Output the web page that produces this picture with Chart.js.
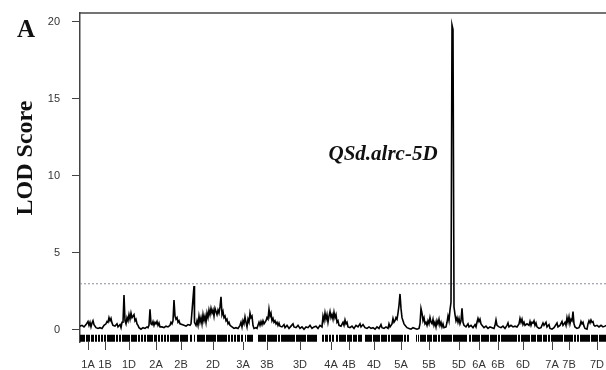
<!DOCTYPE html>
<html>
<head>
<meta charset="utf-8">
<script src="https://cdn.jsdelivr.net/npm/chart.js@4"></script>
<style>
  html, body { margin: 0; padding: 0; background: #fff; }
  #wrap { width: 606px; height: 370px; }
</style>
</head>
<body>
<div id="wrap"><canvas id="c" width="606" height="370"></canvas></div>
<script>
// ---- data ----
const chromLabels = ['1A','1B','1D','2A','2B','2D','3A','3B','3D','4A','4B','4D','5A','5B','5D','6A','6B','6D','7A','7B','7D'];
const chromPos = [8,25,49,76,101,133,163,187,220,251,269,294,321,349,379,399,418,443,472,489,517];
const yTickValues = [0, 5, 10, 15, 20];
const lodThreshold = 3.0;
const qtlName = 'QSd.alrc-5D';
const qtlLabelAt = [303, 11.4];
// [genome position, LOD]
const lodProfile = [
[0,0.25],[2,0.3],[4,0.2],[6,0.35],[8,0.55],[9,0.3],[10,0.5],[11,0.2],[12,0.45],[13,0.6],[14,0.35],[16,0.15],[18,0.1],[20,0.15],[22,0.1],[24,0.3],
[26,0.4],[27,0.55],[28,0.5],[29,0.8],[30,0.6],[31,0.75],[32,0.45],[33,0.3],
[35,0.25],[37,0.4],[38,0.2],[40,0.35],[41,0.15],[42,0.5],
[43,0.5],[44,2.27],[45,0.6],
[46,0.4],[47,0.8],[48,0.6],[49,1.0],[50,0.7],[51,1.1],[52,0.8],[53,0.9],[54,1.0],[55,0.6],[56,0.7],[57,0.4],[58,0.3],
[59,0.15],[61,0.05],[63,0.15],[65,0.1],[67,0.2],[68,0.15],[69,0.3],[70,1.35],[71,0.4],
[72,0.35],[73,0.55],[74,0.3],[75,0.5],[76,0.4],[77,0.55],[78,0.3],[79,0.45],[80,0.2],
[82,0.2],[84,0.15],[86,0.25],[88,0.2],[90,0.3],[91,0.5],[92,0.4],[93,0.6],[94,1.95],[95,0.9],[96,0.7],[97,0.8],[98,0.5],[99,0.6],[100,0.4],[102,0.35],
[104,0.3],[106,0.25],[108,0.35],[110,0.3],[111,0.4],[114,2.85],[114.5,0.5],[116,0.3],
[117,0.6],[118,0.3],[119,0.9],[120,0.5],[121,0.8],[122,0.4],[123,1.0],[124,0.6],[125,0.9],[126,0.5],[127,1.1],
[128,0.8],[129,1.3],[130,1.0],[131,1.4],[132,1.1],[133,1.3],[134,0.9],[135,1.4],[136,1.2],[137,1.0],[138,1.3],[139,1.1],[140,1.5],[141,2.16],[142,1.0],[143,1.2],[144,0.8],[145,0.9],[146,0.6],[147,0.7],[148,0.4],[149,0.5],[150,0.3],
[152,0.2],[154,0.1],[156,0.15],[158,0.1],
[160,0.3],[161,0.5],[162,0.2],[163,0.6],[164,0.4],[165,0.85],[166,0.5],[167,0.2],[168,0.7],[169,0.5],[170,1.1],[171,0.8],[172,0.9],[173,0.3],[174,0.1],[176,0.15],[177,0.1],
[178,0.3],[179,0.5],[180,0.3],[181,0.55],[182,0.35],[183,0.6],[184,0.4],[185,0.5],[186,0.6],[187,0.8],[188,0.7],[189,1.35],[190,0.9],[191,1.1],[192,0.6],[193,0.75],[194,0.5],[195,0.6],[196,0.4],[197,0.5],[198,0.3],[199,0.45],[200,0.25],
[202,0.2],[204,0.35],[205,0.15],[207,0.3],[209,0.1],[211,0.25],[213,0.4],[214,0.2],[216,0.15],[218,0.3],[220,0.1],[222,0.2],[224,0.05],[226,0.2],[228,0.15],[230,0.3],[232,0.1],[234,0.2],[236,0.25],[238,0.1],[240,0.3],[242,0.2],
[243,0.9],[244,0.6],[245,1.1],[246,0.7],[247,1.0],[248,0.5],[249,0.9],[250,1.2],[251,0.8],[252,1.0],[253,0.7],[254,1.15],[255,0.8],[256,1.0],[257,0.5],[258,0.6],[259,0.3],
[261,0.25],[263,0.5],[264,0.3],[265,0.65],[266,0.4],[267,0.5],[268,0.2],
[270,0.15],[272,0.25],[274,0.1],[276,0.3],[278,0.2],[280,0.4],[281,0.2],[283,0.35],[285,0.15],[287,0.1],[289,0.2],[291,0.1],[293,0.15],[295,0.05],[297,0.2],[299,0.1],[301,0.35],[302,0.15],[304,0.1],[306,0.2],[308,0.1],[309,0.4],[310,0.2],
[312,0.4],[313,0.75],[314,0.5],[315,0.6],[316,0.8],[317,0.7],[318,1.1],[319,1.6],[320,2.34],[321,1.4],[322,0.8],[323,0.6],[324,0.4],[325,0.3],[327,0.15],
[329,0.1],[331,0.05],[333,0.15],[335,0.1],[337,0.05],[339,0.1],
[340,0.4],[341,1.4],[342,1.1],[343,0.6],[344,0.8],[345,0.4],[346,0.5],
[347,0.3],[348,0.6],[349,0.4],[350,0.8],[351,0.5],[352,0.4],[353,0.7],[354,0.3],[355,0.5],[356,0.2],[357,0.6],[358,0.4],[359,0.7],[360,0.3],[361,0.5],[362,0.2],[363,0.4],
[364,0.15],[366,0.2],
[367,0.5],[368,0.9],[369,0.6],[370,1.3],[371,1.8],[372,19.8],[373,19.5],[374,1.5],[375,1.0],[376,0.6],[377,0.8],[378,0.5],[379,0.75],[380,0.4],[381,0.6],[382,1.4],[383,0.5],
[384,0.3],[386,0.2],[388,0.4],[389,0.2],[391,0.3],[393,0.15],[395,0.35],[396,0.2],
[397,0.5],[398,0.75],[399,0.55],[400,0.7],[401,0.4],[402,0.3],
[404,0.15],[406,0.25],[408,0.1],[410,0.2],[412,0.15],[414,0.1],[415,0.3],[416,0.65],[417,0.3],
[419,0.2],[421,0.15],[423,0.25],[425,0.1],[427,0.3],[428,0.45],[429,0.2],[431,0.3],[433,0.2],[435,0.25],[437,0.2],
[439,0.4],[440,0.75],[441,0.5],[442,0.7],[443,0.35],[444,0.5],[445,0.3],[447,0.4],[449,0.3],
[450,0.55],[451,0.3],[452,0.5],[453,0.45],[454,0.6],[455,0.3],[456,0.45],[457,0.2],[459,0.1],[461,0.15],
[463,0.45],[464,0.3],[466,0.5],[467,0.2],[469,0.35],[470,0.1],[472,0.05],[474,0.15],
[477,0.45],[478,0.2],[480,0.3],[482,0.55],[483,0.3],[485,0.5],
[486,0.3],[487,0.8],[488,0.5],[489,0.85],[490,0.4],[491,0.7],[492,0.6],[493,1.2],[494,0.4],[495,0.2],
[497,0.1],[499,0.15],[500,0.3],[501,0.55],[502,0.4],[503,0.5],[504,0.25],[505,0.1],[507,0.05],
[508,0.4],[509,0.6],[510,0.45],[511,0.65],[512,0.5],[513,0.55],[514,0.3],[515,0.25],
[517,0.3],[519,0.2],[521,0.3],[523,0.2],[525,0.25],[526,0.3]
];
// marker coverage (rug): [start, end] genome positions of marker-dense stretches
const markerSegments = [
[0,5],[6,10],[11,14],[15,17],[18,20],[21,23],[24,26],[27,35],[36,38],[39,41],[42,50],[51,57],
[58,60],[61,63],[64,66],[67,73],[74,77],[78,80],[81,83],[84,86],[87,89],[90,99],[100,108],
[110,112],[114,115],[117,125],[126,136],[137,147],[148,150],[151,153],[154,156],[157,160],
[161,163],[165,166],[167,173],[178,186],[187,197],[198,200],[201,215],[216,226],[227,237],
[242,244],[245,248],[249,251],[252,254],[256,258],[259,266],[267,272],[273,277],[278,282],
[285,292],[293,300],[301,307],[308,310],[311,323],[324,326],[327,329],[336,337],[338,339],
[340,346],[347,352],[353,357],[358,360],[361,372],[373,387],[389,391],[392,400],[401,409],
[410,417],[418,420],[421,437],[438,440],[441,450],[451,456],[457,462],[463,467],[468,470],
[471,483],[484,493],[494,496],[497,499],[500,510],[511,518],[519,526]
];

// ---- derived ----
const X_MIN = 0, X_MAX = 526, Y_MIN = -0.78, Y_MAX = 20.58, RUG_Y = -0.54;
const lodData = lodProfile.map(p => ({x: p[0], y: p[1]}));
const rugData = [];
markerSegments.forEach(s => {
  rugData.push({x: s[0], y: RUG_Y}, {x: s[1], y: RUG_Y}, {x: s[1], y: null});
});
const thrData = [{x: X_MIN, y: lodThreshold}, {x: X_MAX, y: lodThreshold}];

const textPlugin = {
  id: 'texts',
  afterDraw(chart) {
    const ctx = chart.ctx, a = chart.chartArea;
    ctx.save();
    // top frame line
    ctx.strokeStyle = '#444'; ctx.lineWidth = 1.5;
    ctx.beginPath(); ctx.moveTo(a.left, a.top); ctx.lineTo(a.right, a.top); ctx.stroke();
    // panel letter
    ctx.fillStyle = '#111';
    ctx.font = 'bold 25px "Liberation Serif", "DejaVu Serif", serif';
    ctx.textAlign = 'left'; ctx.textBaseline = 'alphabetic';
    ctx.fillText('A', 17, 37);
    // y title
    ctx.save();
    ctx.translate(32, 158);
    ctx.rotate(-Math.PI / 2);
    ctx.textAlign = 'center'; ctx.textBaseline = 'alphabetic';
    ctx.font = 'bold 24px "Liberation Serif", "DejaVu Serif", serif';
    ctx.fillText('LOD Score', 0, 0);
    ctx.restore();
    // QTL label
    const xs = chart.scales.x, ys = chart.scales.y;
    ctx.font = 'italic bold 21px "Liberation Serif", "DejaVu Serif", serif';
    ctx.textAlign = 'center'; ctx.textBaseline = 'middle';
    ctx.fillText(qtlName, xs.getPixelForValue(qtlLabelAt[0]), ys.getPixelForValue(qtlLabelAt[1]));
    ctx.restore();
  }
};

new Chart(document.getElementById('c'), {
  type: 'line',
  data: {
    datasets: [
      { data: thrData, borderColor: '#8a8a9c', borderWidth: 1, borderDash: [2, 2], pointRadius: 0, order: 3 },
      { data: rugData, borderColor: '#000', borderWidth: 7, borderCapStyle: 'butt', pointRadius: 0, spanGaps: false, order: 2 },
      { data: lodData, borderColor: '#000', borderWidth: 1.6, pointRadius: 0, tension: 0, order: 1 }
    ]
  },
  options: {
    responsive: false,
    devicePixelRatio: 1,
    animation: false,
    layout: { padding: { top: 13, right: 0, bottom: 0, left: 0 } },
    plugins: { legend: { display: false }, tooltip: { enabled: false } },
    scales: {
      x: {
        type: 'linear', min: X_MIN, max: X_MAX,
        border: { display: false },
        grid: { drawOnChartArea: false, drawTicks: true, tickLength: 8, color: '#444', lineWidth: 1 },
        afterBuildTicks: (s) => { s.ticks = chromPos.map(v => ({value: v})); },
        afterFit: (s) => { s.height = 28; s.paddingLeft = 0; s.paddingRight = 0; },
        ticks: {
          autoSkip: false, maxRotation: 0, minRotation: 0, padding: 9,
          color: '#333',
          font: { family: '"Liberation Sans", Arial, sans-serif', size: 11, lineHeight: 1 },
          callback: (v) => { const i = chromPos.indexOf(v); return i >= 0 ? chromLabels[i] : ''; }
        }
      },
      y: {
        min: Y_MIN, max: Y_MAX,
        border: { display: true, color: '#444', width: 1.5 },
        grid: { drawOnChartArea: false, drawTicks: true, tickLength: 8, color: '#444', lineWidth: 1 },
        afterBuildTicks: (s) => { s.ticks = yTickValues.map(v => ({value: v})); },
        afterFit: (s) => { s.width = 80; s.paddingTop = 0; s.paddingBottom = 0; },
        ticks: {
          padding: 12, color: '#333',
          font: { family: '"Liberation Sans", Arial, sans-serif', size: 11 }
        }
      }
    }
  },
  plugins: [textPlugin]
});
</script>
</body>
</html>
